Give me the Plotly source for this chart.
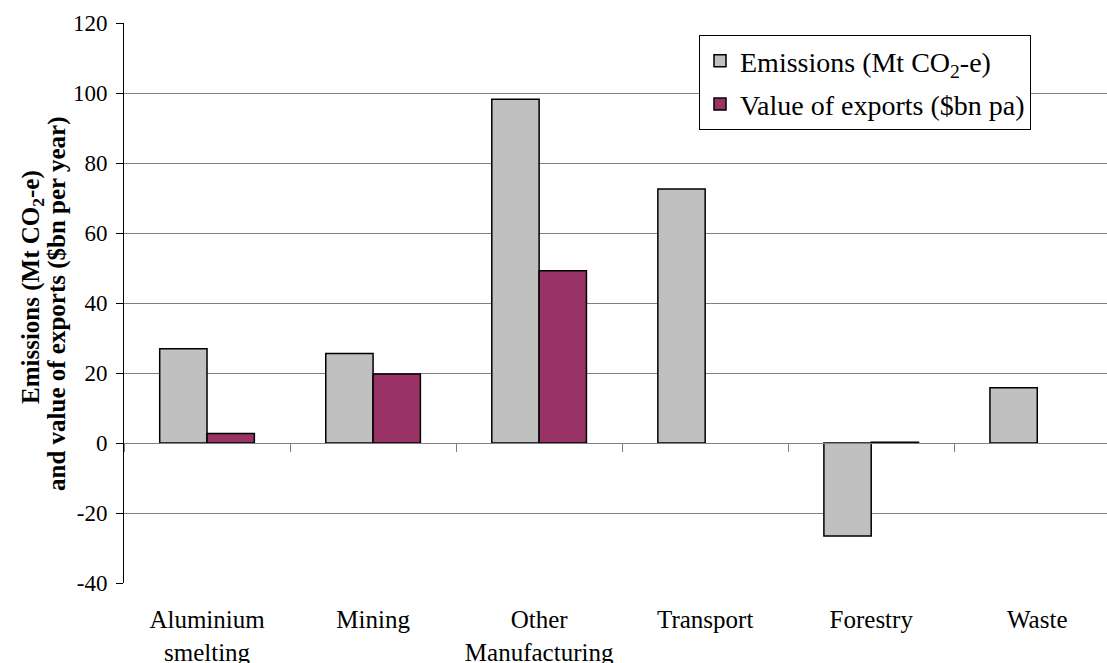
import plotly.graph_objects as go

# Sector data
sectors = ["Aluminium<br>smelting", "Mining", "Other<br>Manufacturing",
           "Transport", "Forestry", "Waste"]
emissions = [26.9, 25.6, 98.2, 72.6, -26.6, 15.8]      # Mt CO2-e
export_value = [2.7, 19.7, 49.2, None, 0.2, None]      # $bn pa

y_ticks = [-40, -20, 0, 20, 40, 60, 80, 100, 120]
y_tick_text = ["-40", "-20", "0", "20", "40", "60", "80", "100", "120"]
boundary_ticks = [-0.5, 0.5, 1.5, 2.5, 3.5, 4.5, 5.5]

title_lines = ["Emissions (Mt CO<sub>2</sub>-e)",
               "and value of exports ($bn per year)"]

FONT = "Liberation Serif"
GREY_FILL = "#C0C0C0"
PLUM_FILL = "#993366"
GRID = "#808080"

fig = go.Figure()
fig.add_trace(go.Bar(
    x=sectors, y=emissions, name="Emissions (Mt CO<sub>2</sub>-e)",
    legendgroup="em",
    marker=dict(color=GREY_FILL, line=dict(color="black", width=1.5)),
))
fig.add_trace(go.Bar(
    x=sectors, y=export_value, name="Value of exports ($bn pa)",
    legendgroup="ex",
    marker=dict(color=PLUM_FILL, line=dict(color="black", width=1.5)),
))
# carrier for the category-boundary axis drawn along y = 0
fig.add_trace(go.Scatter(x=[None], y=[None], xaxis="x2", showlegend=False,
                         hoverinfo="skip"))

x_range = [-0.5, 5.42]
y_range = [-40, 120]
zero_pos = (0 - y_range[0]) / (y_range[1] - y_range[0])

PLOT_L, PLOT_T, PLOT_W, PLOT_H = 124, 23, 983, 560

# two-line bold y-axis title (x centre, y centre in pixels)
for line, (px, py) in zip(title_lines, [(32, 287), (57, 304)]):
    fig.add_annotation(
        text=line, textangle=-90, showarrow=False,
        xref="paper", yref="paper",
        x=(px - PLOT_L) / PLOT_W, y=1 - (py - PLOT_T) / PLOT_H,
        xanchor="center", yanchor="middle",
        font=dict(family=FONT, size=25, color="black", weight="bold"),
    )

fig.update_layout(
    width=1107, height=663,
    margin=dict(l=PLOT_L, r=0, t=PLOT_T, b=80, autoexpand=False),
    paper_bgcolor="white", plot_bgcolor="white",
    font=dict(family=FONT, color="black", size=22),
    barmode="group", bargap=0.43, bargroupgap=0,
    showlegend=True,
    legend=dict(
        x=(699 - PLOT_L) / PLOT_W, y=1 - (35 - PLOT_T) / PLOT_H,
        xanchor="left", yanchor="top",
        bgcolor="white", bordercolor="black", borderwidth=1,
        font=dict(family=FONT, size=28, color="black"),
        itemwidth=30, tracegroupgap=4,
    ),
    xaxis=dict(
        type="category", range=x_range, automargin=False,
        showline=False, showgrid=False, zeroline=False,
        ticks="", tickfont=dict(family=FONT, size=25),
        ticklabelstandoff=19,
    ),
    xaxis2=dict(
        overlaying="x", anchor="free", position=zero_pos, side="bottom",
        type="linear", range=x_range, automargin=False,
        showline=True, linecolor=GRID, linewidth=1,
        ticks="outside", ticklen=8, tickcolor=GRID, tickwidth=1,
        tickvals=boundary_ticks, showticklabels=False,
        showgrid=False, zeroline=False,
    ),
    yaxis=dict(
        range=y_range, tickvals=y_ticks, ticktext=y_tick_text,
        automargin=False,
        showline=True, linecolor="black", linewidth=1,
        ticks="outside", ticklen=7, tickcolor="black",
        showgrid=True, gridcolor=GRID, gridwidth=1,
        zeroline=False,
        tickfont=dict(family=FONT, size=23),
        ticklabelstandoff=4,
    ),
)

fig.write_html("out.html")
